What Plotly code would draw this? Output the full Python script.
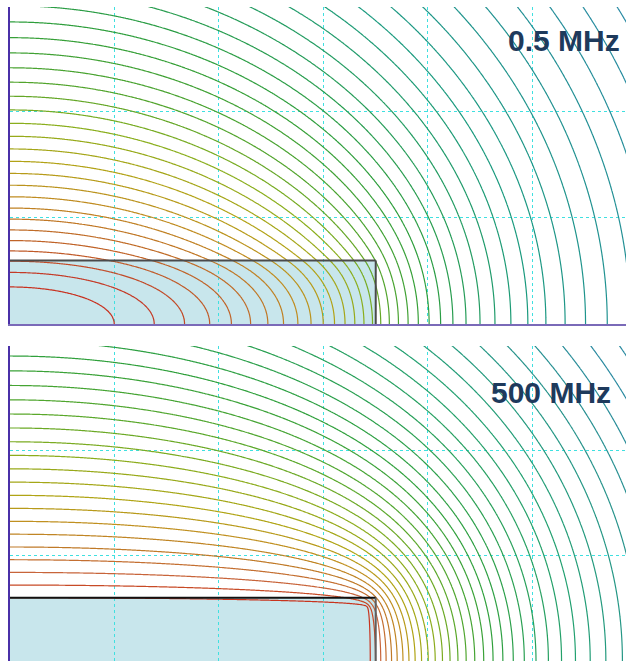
import numpy as np
import plotly.graph_objects as go

# ---- geometry, in grid divisions ----
COND_HALF_W = 3.5          # conductor half width
COND_HALF_T = 0.6          # conductor half thickness
X_VIEW = [0.0, 5.895]
Y_VIEW = [[0.0, 2.99], [0.0, 2.986]]
GRID_X = [1, 2, 3, 4, 5]
GRID_Y = [1, 2]
FREQ_LABELS = ["0.5 MHz", "500 MHz"]

# contour crossings on the symmetry axis x = 0 (heights) and number of gaps between them
AXIS_CROSSINGS = [[0.689, 2.849], [0.720, 2.891]]
AXIS_GAPS = [18, 17]

# far-field widening of the contour interval: onset index and growth per contour
FAR_ONSET = [-18, -17]
FAR_GROWTH = [0.012, 0.017]

# effective recess of the current sheet below the surface at 500 MHz
SKIN_RECESS = 0.09

# line colours keyed by contour index (0 = lower axis crossing)
LF_COLOURS = [(3, "#c8301e"), (2, "#c43a26"), (0, "#c05a28"),
              (-2, "#c06c28"), (-5, "#c08c20"), (-8, "#b2a216"), (-11, "#8aae1c"),
              (-14, "#52a42c"), (-18, "#2e9e3c"), (-25, "#1a9a7e"), (-34, "#2a88a8")]
HF_COLOURS = [(3, "#c8301e"), (1, "#c8341e"), (0, "#c84a26"), (-1, "#c8643a"),
              (-3, "#c07a28"), (-5, "#c09020"), (-7, "#b0a414"), (-10, "#8cac1c"),
              (-13, "#5aa82a"), (-17, "#30a03c"), (-24, "#22a070"), (-31, "#2a8aa0")]
K_START = -70

# ---- field evaluation grid (first quadrant, symmetric about both axes) ----
xs = np.linspace(0.0, 5.91, 395)
ys = np.linspace(0.0, 3.0, 201)
PX, PY = np.meshgrid(xs, ys)


# ---- 0.5 MHz: uniform current density over the full rectangle ----
def _sq_atan(p, q):
    ps = np.where(p == 0, 1.0, p)
    return np.where(p == 0, 0.0, p * p * np.arctan(q / ps))


def _G(X, Y):
    return X * Y * (np.log(X * X + Y * Y + 1e-300) - 3.0) + _sq_atan(X, Y) + _sq_atan(Y, X)


def potential_uniform(px, py, a=COND_HALF_W, b=COND_HALF_T):
    px = np.asarray(px, dtype=float)
    py = np.asarray(py, dtype=float)
    I = _G(px + a, py + b) - _G(px - a, py + b) - _G(px + a, py - b) + _G(px - a, py - b)
    return -I / (2.0 * 4.0 * a * b)


# ---- 500 MHz: equipotential current sheet (boundary elements) ----
def _F(u, d):
    ad = np.abs(d)
    return 0.5 * u * np.log(u * u + d * d + 1e-300) - u + ad * np.arctan2(u, ad)


def _hseg(px, py, x1, x2, yc):
    d = py - yc
    return _F(x2 - px, d) - _F(x1 - px, d)


def _vseg(px, py, y1, y2, xc):
    d = px - xc
    return _F(y2 - py, d) - _F(y1 - py, d)


aw = COND_HALF_W - SKIN_RECESS
bt = COND_HALF_T - SKIN_RECESS
xt = aw * np.sin(np.linspace(0, np.pi / 2, 121))
yr = bt * np.sin(np.linspace(0, np.pi / 2, 31))
elements = [("h", xt[i], xt[i + 1]) for i in range(len(xt) - 1)] + \
           [("v", yr[i], yr[i + 1]) for i in range(len(yr) - 1)]


def kernel(el, px, py):
    kind, s1, s2 = el
    if kind == "h":
        return (_hseg(px, py, s1, s2, bt) + _hseg(px, py, -s2, -s1, bt) +
                _hseg(px, py, s1, s2, -bt) + _hseg(px, py, -s2, -s1, -bt))
    return (_vseg(px, py, s1, s2, aw) + _vseg(px, py, -s2, -s1, aw) +
            _vseg(px, py, s1, s2, -aw) + _vseg(px, py, -s2, -s1, -aw))


cx = np.array([0.5 * (e[1] + e[2]) if e[0] == "h" else aw for e in elements])
cy = np.array([bt if e[0] == "h" else 0.5 * (e[1] + e[2]) for e in elements])
n = len(elements)
M = np.zeros((n + 1, n + 1))
for j, el in enumerate(elements):
    M[:n, j] = kernel(el, cx, cy)
    M[n, j] = 4.0 * (el[2] - el[1])
M[:n, n] = 1.0
rhs = np.zeros(n + 1)
rhs[n] = 1.0
sol = np.linalg.solve(M, rhs)
sigma, V_SHEET = sol[:n], sol[n]


def potential_sheet(px, py):
    px = np.asarray(px, dtype=float)
    py = np.asarray(py, dtype=float)
    out = np.zeros(np.broadcast(px, py).shape)
    for s, el in zip(sigma, elements):
        out -= s * kernel(el, px, py)
    return np.where((px < aw) & (py < bt), V_SHEET, out)


pot_funcs = [potential_uniform, potential_sheet]
colour_sets = [LF_COLOURS, HF_COLOURS]


def contour_index(i, A):
    """Potential -> contour index (integers are drawn); interval widens in the far field."""
    f = pot_funcs[i]
    y0, y1 = AXIS_CROSSINGS[i]
    a0 = float(f(np.array([0.0]), np.array([y0]))[0])
    a1 = float(f(np.array([0.0]), np.array([y1]))[0])
    step = (a0 - a1) / AXIS_GAPS[i]
    u = (A - a0) / step
    k_on, c = FAR_ONSET[i], FAR_GROWTH[i]
    D = np.maximum(k_on - u, 0.0)
    w = (np.sqrt(1.0 + 2.0 * c * D) - 1.0) / c
    return np.where(u >= k_on, u, k_on - w)


def colour_scale(cols):
    k_end = max(k for k, _ in cols)
    scale = [[(k - K_START) / (k_end - K_START), c] for k, c in sorted(cols, key=lambda t: t[0])]
    scale.insert(0, [0.0, scale[0][1]])
    return k_end, scale


fig = go.Figure()
xa_names = ["x", "x2"]
ya_names = ["y", "y2"]
for i in range(2):
    z = contour_index(i, pot_funcs[i](PX, PY))
    k_end, scale = colour_scale(colour_sets[i])
    fig.add_trace(go.Contour(
        x=xs, y=ys, z=np.round(z, 4),
        xaxis=xa_names[i], yaxis=ya_names[i],
        autocontour=False,
        contours=dict(start=K_START, end=k_end, size=1, coloring="lines", showlabels=False),
        colorscale=scale, showscale=False,
        line=dict(width=1.2, smoothing=0.6),
        hoverinfo="skip",
    ))

axis_common = dict(showticklabels=False, ticks="", zeroline=False,
                   showgrid=True, gridcolor="#3fe0e0", griddash="dot", gridwidth=1)

fig.update_layout(
    width=626, height=661,
    margin=dict(l=10, r=0, t=7, b=0),
    paper_bgcolor="white", plot_bgcolor="white",
    showlegend=False,
    xaxis=dict(domain=[0, 1], anchor="y", range=X_VIEW, tickvals=GRID_X,
               showline=True, linecolor="#7a6ab8", linewidth=2, **axis_common),
    yaxis=dict(domain=[(661 - 324) / 654, 1.0], anchor="x", range=Y_VIEW[0], tickvals=GRID_Y,
               showline=True, linecolor="#4a30a8", linewidth=2, **axis_common),
    xaxis2=dict(domain=[0, 1], anchor="y2", range=X_VIEW, tickvals=GRID_X,
                showline=False, **axis_common),
    yaxis2=dict(domain=[0.0, 315 / 654], anchor="x2", range=Y_VIEW[1], tickvals=GRID_Y,
                showline=True, linecolor="#4a30a8", linewidth=2, **axis_common),
)

# conductor cross-section: fill under the grid, edges over the contours
edge_colours = [("#4a4a4a", "#4a4a4a"), ("#111111", "#606060")]
for i in range(2):
    xr, yr_ = xa_names[i], ya_names[i]
    fig.add_shape(type="rect", xref=xr, yref=yr_, x0=0, y0=0, x1=COND_HALF_W, y1=COND_HALF_T,
                  fillcolor="#c8e6ec", line=dict(width=0), layer="below")
    fig.add_shape(type="line", xref=xr, yref=yr_, x0=0, y0=COND_HALF_T, x1=COND_HALF_W, y1=COND_HALF_T,
                  line=dict(color=edge_colours[i][0], width=2), layer="above")
    fig.add_shape(type="line", xref=xr, yref=yr_, x0=COND_HALF_W, y0=0, x1=COND_HALF_W, y1=COND_HALF_T,
                  line=dict(color=edge_colours[i][1], width=2), layer="above")

label_pos = [(0.9935, (661 - 41) / 654), (0.979, (661 - 393) / 654)]
for (lx, ly), txt in zip(label_pos, FREQ_LABELS):
    fig.add_annotation(x=lx, y=ly, xref="paper", yref="paper", xanchor="right", yanchor="middle",
                       text="<b>" + txt + "</b>", showarrow=False,
                       font=dict(family="Liberation Sans, Arial", size=30, color="#1e3a5c"))

fig.write_html("out.html")
